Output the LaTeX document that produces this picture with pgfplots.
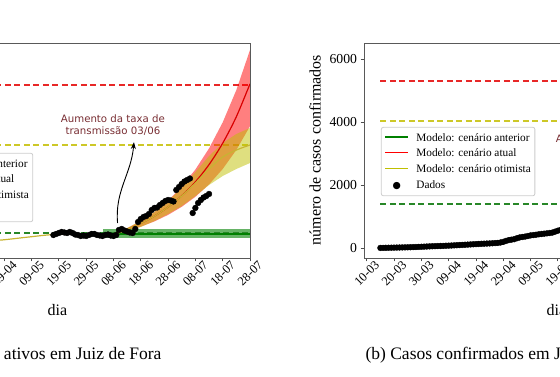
\documentclass[border=0pt]{standalone}
\usepackage{pgfplots}
\pgfplotsset{compat=1.18}
\usepackage{fontspec}
\setmainfont{Liberation Serif}
\newfontfamily\annfont{DejaVu Sans}
\usetikzlibrary{arrows.meta}
\definecolor{colR}{RGB}{255,0,0}
\definecolor{colG}{RGB}{0,128,0}
\definecolor{colY}{RGB}{191,191,0}
\definecolor{dred}{RGB}{232,40,40}
\definecolor{dyellow}{RGB}{205,200,40}
\definecolor{dgreen}{RGB}{40,135,40}
\definecolor{ann}{RGB}{120,45,50}
\definecolor{yline}{RGB}{200,180,50}

\newcommand{\mylegend}{%
  {\renewcommand\arraystretch{1.2}%
  \begin{tabular}{@{}c@{\hspace{8pt}}l@{}}
  \textcolor{colG}{\rule[0.3em]{23pt}{1.5pt}} & Modelo: cenário anterior\\
  \textcolor{colR}{\rule[0.3em]{23pt}{1.5pt}} & Modelo: cenário atual\\
  \textcolor{colY}{\rule[0.3em]{23pt}{1.5pt}} & Modelo: cenário otimista\\
  {\annfont\fontsize{9.5}{9.5}\selectfont ●} & Dados
  \end{tabular}}}

\tikzset{legbox/.style={draw=black!20, line width=0.8pt, fill=white, rounded corners=2pt,
      anchor=north west, inner xsep=4pt, inner ysep=3pt, font=\fontsize{11.3}{13}\selectfont}}

\pgfplotsset{
  dashline/.style={dash pattern=on 6pt off 3.5pt, line width=1.5pt, forget plot},
  mystyle/.style={
    scale only axis, width=385pt, height=214.5pt,
    xmin=8, xmax=149,
    axis line style={black!65, line width=0.8pt},
    tick pos=left, tick align=outside, major tick length=3.5pt,
    tick style={black!70, line width=0.8pt},
    xtick={9,19,29,39,49,59,69,79,89,99,109,119,129,139,149},
    xticklabels={10-03,20-03,30-03,09-04,19-04,29-04,09-05,19-05,29-05,08-06,18-06,28-06,08-07,18-07,28-07},
    xticklabel style={font=\fontsize{12.5}{14}\selectfont, yshift=-12pt, rotate=45, anchor=center},
    yticklabel style={font=\fontsize{13.7}{16}\selectfont},
    xlabel={dia},
    xlabel style={font=\fontsize{16}{18}\selectfont, at={(axis description cs:0.5,-0.242)}, anchor=center},
  }
}

\begin{document}
\begin{tikzpicture}[x=1pt,y=1pt]
\path[use as bounding box] (0,0) rectangle (560,377);
\clip (0,0) rectangle (560,377);

% ---------------- (a) casos ativos ----------------
\begin{axis}[mystyle, at={(-135pt,119pt)}, anchor=south west,
  ymin=-291.5, ymax=5393,
  ytick={0,1000,2000,3000,4000,5000}]

\addplot[dred, dashline] coordinates {(14,4293) (149,4293)};
\addplot[dyellow, dashline] coordinates {(14,2703) (149,2703)};

% bands
\addplot[fill=colR, fill opacity=0.5, draw=none, forget plot] coordinates {
 (99,344.5) (104,498) (109,689) (114,925) (119,1224) (124,1606) (129,2054) (134,2613) (139,3302) (144,4160) (149,5220)
 (149,3201) (144,2573) (139,2067) (134,1659) (129,1330) (124,1065) (119,851) (114,678) (109,538) (104,435) (99,344.5)} -- cycle;
\addplot[fill=colY, fill opacity=0.5, draw=none, forget plot] coordinates {
 (99,344.5) (104,503) (109,689) (114,928) (119,1219) (124,1564) (129,1988) (134,2412) (139,2756) (144,2995) (149,3154)
 (149,2226) (144,2067) (139,1882) (134,1643) (129,1352) (124,1086) (119,875) (114,689) (109,530) (104,424) (99,344.5)} -- cycle;
\addplot[fill=colG, fill opacity=0.6, draw=none, forget plot] coordinates {
 (95,238.5) (149,238.5) (149,477) (95,477)} -- cycle;

\addplot[dgreen, dashline] coordinates {(14,371) (149,371)};

% model lines
\addplot[colG, line width=1.5pt, forget plot] coordinates {(95,344.5) (149,344.5)};
\addplot[colR!85!black, line width=1.2pt, smooth, forget plot] coordinates {
 (99,344.5) (104,470) (109,625) (114,819) (119,1060) (124,1357) (129,1725) (134,2184) (139,2751) (144,3453) (149,4325)};
\addplot[yline, line width=1.2pt, smooth, forget plot] coordinates {
 (8,0) (20,30) (30,70) (40,110) (50,150) (58,185) (68,265) (77,330) (88,345) (99,344.5)
 (104,470) (109,625) (114,819) (119,1060) (124,1352) (129,1696) (134,2067) (139,2385) (144,2570) (149,2703)};

% data
\addplot[only marks, mark=*, mark size=2.9pt, black, forget plot] coordinates {
 (77,318) (78,345) (79,371) (80,398) (81,384) (82,371) (83,398) (84,371) (85,331) (86,318)
 (87,292) (88,305) (89,292) (90,318) (91,345) (92,345) (93,318) (94,305) (95,292) (96,318)
 (97,331) (98,305) (99,292) (100,318) (101,451) (102,477) (103,437) (104,411) (105,384) (106,371)
 (107,477) (108,663) (109,742) (110,795) (111,822) (112,875) (113,981) (114,1034) (115,1047) (116,1113)
 (117,1166) (118,1219) (119,1246) (120,1232) (121,1206) (122,1511) (123,1590) (124,1670) (125,1736) (126,1776)
 (127,1815) (128,901) (129,1034) (130,1166) (131,1246) (132,1312) (133,1352) (134,1405)};

% annotation
\node[font=\annfont\fontsize{10.2}{12}\selectfont, text=ann, align=center] at (axis cs:98.8,3233)
  {Aumento da taxa de\\transmissão 03/06};
\draw[-{Stealth[length=7pt,width=5pt]}, line width=0.9pt] (axis cs:100.5,636) to[out=95,in=-95] (axis cs:106.5,2780);

\node[legbox] at (axis description cs:0.036,0.49) {\mylegend};
\end{axis}

% ---------------- (b) casos confirmados ----------------
\begin{axis}[mystyle, at={(364pt,119pt)}, anchor=south west,
  ymin=-317.5, ymax=6493,
  ytick={0,2000,4000,6000}, yticklabels={0,2000,4000,6000},
  ylabel={número de casos confirmados},
  ylabel style={font=\fontsize{16}{18}\selectfont, at={(axis description cs:-0.127,0.503)}, anchor=center, rotate=0}]

\addplot[dred, dashline] coordinates {(14,5300) (149,5300)};
\addplot[dyellow, dashline] coordinates {(14,4030) (149,4030)};
\addplot[dgreen, dashline] coordinates {(14,1400) (149,1400)};

\addplot[only marks, mark=*, mark size=2.9pt, black, forget plot] coordinates {
 (14,2) (15,4) (16,6) (17,8) (18,10) (19,12) (20,14) (21,16) (22,18) (23,20)
 (24,22) (25,25) (26,28) (27,31) (28,35) (29,39) (30,43) (31,47) (32,51) (33,55)
 (34,58) (35,61) (36,64) (37,67) (38,71) (39,75) (40,79) (41,83) (42,88) (43,93)
 (44,98) (45,103) (46,108) (47,113) (48,118) (49,123) (50,128) (51,133) (52,137) (53,141)
 (54,145) (55,150) (56,155) (57,162) (58,175) (59,195) (60,225) (61,250) (62,265) (63,280)
 (64,310) (65,335) (66,350) (67,362) (68,380) (69,400) (70,410) (71,420) (72,435) (73,445)
 (74,455) (75,465) (76,475) (77,490) (78,520) (79,550) (80,575) (81,595) (82,610)};

\node[font=\annfont\fontsize{10.2}{12}\selectfont, text=ann, align=center] at (axis cs:97.3,3270)
  {Aumento da taxa de\\transmissão 03/06};

\node[legbox] at (axis description cs:0.044,0.611) {\mylegend};
\end{axis}

% captions
\node[anchor=east, font=\fontsize{17.5}{20}\selectfont] at (165,22) {(a) Casos ativos em Juiz de Fora};
\node[anchor=west, font=\fontsize{17.5}{20}\selectfont] at (362,22) {(b) Casos confirmados em Juiz de Fora};
\end{tikzpicture}
\end{document}
